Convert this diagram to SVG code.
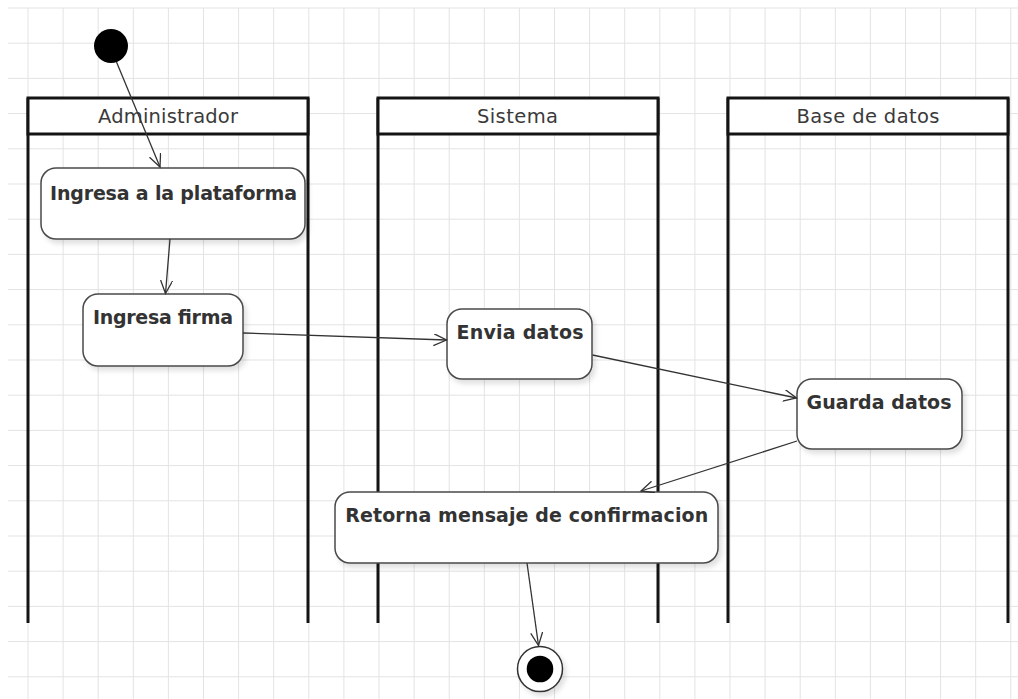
<svg xmlns="http://www.w3.org/2000/svg" width="1018" height="699" viewBox="0 0 1018 699">
<style>
.grid{stroke:#e3e3e3;stroke-width:1;fill:none}
.lane{fill:none;stroke:#141414;stroke-width:3}
.hdr{fill:#fff;stroke:#141414;stroke-width:3}
.htxt{font-family:"DejaVu Sans",sans-serif;font-size:19.5px;fill:#3a3a3a;text-anchor:middle}
.node{fill:#fff;stroke:#4a4a4a;stroke-width:1.5;filter:url(#sh)}
.ntxt{font-family:"DejaVu Sans",sans-serif;font-weight:bold;font-size:19px;fill:#333;text-anchor:middle}
.edge{fill:none;stroke:#333;stroke-width:1.3;marker-end:url(#arr)}
</style>
<defs>
<filter id="sh" x="-10%" y="-10%" width="130%" height="140%">
<feDropShadow dx="3" dy="4" stdDeviation="2.5" flood-color="#000" flood-opacity="0.12"/>
</filter>
<marker id="arr" markerUnits="userSpaceOnUse" markerWidth="16" markerHeight="14" refX="13" refY="6" orient="auto">
<path d="M0,0 L13,6 L0,12" fill="none" stroke="#333" stroke-width="1.3"/>
</marker>
</defs>
<rect width="1018" height="699" fill="#fff"/>
<g id="grid">
<path class="grid" d="M28,8V699M63.1,8V699M98.2,8V699M133.3,8V699M168.4,8V699M203.5,8V699M238.6,8V699M273.7,8V699M308.8,8V699M343.9,8V699M379,8V699M414.1,8V699M449.2,8V699M484.3,8V699M519.4,8V699M554.5,8V699M589.6,8V699M624.7,8V699M659.8,8V699M694.9,8V699M730,8V699M765.1,8V699M800.2,8V699M835.3,8V699M870.4,8V699M905.5,8V699M940.6,8V699M975.7,8V699M1010.8,8V699"/>
<path class="grid" d="M8,8H1018M8,43.2H1018M8,78.4H1018M8,113.6H1018M8,148.8H1018M8,184H1018M8,219.2H1018M8,254.4H1018M8,289.6H1018M8,324.8H1018M8,360H1018M8,395.2H1018M8,430.4H1018M8,465.6H1018M8,500.8H1018M8,536H1018M8,571.2H1018M8,606.4H1018M8,641.6H1018M8,676.8H1018"/>
</g>
<g id="lane-administrador">
<path class="lane" d="M28,98V623M308,98V623"/>
<rect class="hdr" x="28" y="98" width="280" height="36"/>
<text class="htxt" x="168" y="123" textLength="140">Administrador</text>
</g>
<g id="lane-sistema">
<path class="lane" d="M378,98V623M658,98V623"/>
<rect class="hdr" x="378" y="98" width="280" height="36"/>
<text class="htxt" x="517.5" y="123" textLength="81">Sistema</text>
</g>
<g id="lane-base-de-datos">
<path class="lane" d="M728,98V623M1008,98V623"/>
<rect class="hdr" x="728" y="98" width="280" height="36"/>
<text class="htxt" x="868" y="123" textLength="143">Base de datos</text>
</g>
<g id="start">
<circle cx="111" cy="46" r="17" fill="#000"/>
</g>
<g id="n1">
<rect class="node" x="41" y="168" width="264" height="71" rx="15"/>
<text class="ntxt" x="173.5" y="200" textLength="247">Ingresa a la plataforma</text>
</g>
<g id="n2">
<rect class="node" x="83" y="294" width="160" height="72" rx="15"/>
<text class="ntxt" x="163" y="323.5" textLength="140">Ingresa firma</text>
</g>
<g id="n3">
<rect class="node" x="447" y="309" width="145" height="70" rx="15"/>
<text class="ntxt" x="520" y="338.5" textLength="127">Envia datos</text>
</g>
<g id="n4">
<rect class="node" x="797" y="379" width="165" height="70" rx="15"/>
<text class="ntxt" x="879" y="408.5" textLength="145">Guarda datos</text>
</g>
<g id="n5">
<rect class="node" x="335" y="492" width="383" height="71" rx="15"/>
<text class="ntxt" x="526.7" y="522" textLength="363">Retorna mensaje de confirmacion</text>
</g>
<g id="end">
<circle cx="540" cy="669" r="22.5" fill="#fff" stroke="#333" stroke-width="1.5" filter="url(#sh)"/>
<circle cx="540" cy="669" r="13.3" fill="#000"/>
</g>
<g id="connectors">
<path class="edge" d="M116.5,62 L160,167"/>
<path class="edge" d="M170,239 L165.5,293.5"/>
<path class="edge" d="M243,333 L446.5,340"/>
<path class="edge" d="M592.5,355 L796.5,398"/>
<path class="edge" d="M797,441 L641,491"/>
<path class="edge" d="M527,563 L538.5,645.5"/>
</g>
</svg>
